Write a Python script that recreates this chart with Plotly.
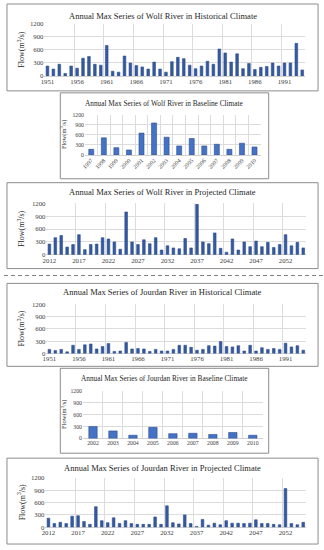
import plotly.graph_objects as go

W, H = 324, 550

# ---------------- data ----------------
hist_years = [str(y) for y in range(1951, 1995)]
base_years_wolf = [str(y) for y in range(1997, 2011)]
base_years_jourdan = [str(y) for y in range(2002, 2011)]
proj_years = [str(y) for y in range(2012, 2056)]

wolf_hist = [230, 160, 270, 60, 230, 180, 410, 450, 270, 250, 700, 110, 90, 460, 300,
             240, 210, 160, 320, 160, 90, 330, 430, 400, 250, 170, 230, 340, 270, 620,
             530, 320, 510, 170, 290, 150, 200, 220, 300, 230, 300, 300, 750, 140]
wolf_base = [170, 510, 220, 150, 650, 950, 530, 270, 490, 270, 320, 170, 350, 240]
wolf_proj = [250, 400, 450, 180, 240, 470, 120, 240, 250, 400, 370, 300, 130, 1000, 300,
             240, 350, 260, 400, 110, 210, 160, 140, 380, 160, 1180, 300, 260, 510, 150,
             60, 370, 110, 300, 190, 320, 190, 290, 170, 240, 470, 210, 290, 160]

jourdan_hist = [100, 70, 100, 40, 200, 100, 210, 230, 110, 170, 240, 50, 60, 270, 110,
                120, 110, 50, 100, 60, 60, 100, 200, 200, 150, 80, 100, 190, 180, 290,
                170, 160, 190, 60, 200, 60, 140, 100, 120, 100, 250, 160, 190, 80]
jourdan_base = [300, 190, 80, 280, 120, 130, 100, 150, 80]
jourdan_proj = [220, 90, 120, 90, 270, 280, 140, 70, 500, 160, 110, 230, 90, 160, 90,
                70, 70, 70, 250, 70, 520, 110, 80, 300, 90, 20, 190, 50, 100, 60,
                160, 100, 100, 90, 100, 180, 90, 90, 70, 60, 940, 90, 60, 120]

y_ticks = [0, 300, 600, 900, 1200]

titles = [
    "Annual Max Series of Wolf River in Historical Climate",
    "Annual Max Series of Wolf River in Baseline Climate",
    "Annual Max Series of Wolf River in Projected Climate",
    "Annual Max Series of Jourdan River in Historical Climate",
    "Annual Max Series of Jourdan River in Baseline Climate",
    "Annual Max Series of Jourdan River in Projected Climate",
]
y_title = "Flow(m<sup>3</sup>/s)"

# ---------------- layout geometry (pixels) ----------------
panels = [
    dict(x=hist_years, y=wolf_hist, area=(41, 305, 20, 73), dtick=5, angle=0, width=0.45,
         box=(3, 318, 0, 88), title_y=12, ytitle_x=17, tfs=8.5, col="#34599E"),
    dict(x=base_years_wolf, y=wolf_base, area=(82, 260, 112, 153), dtick=1, angle=-45, width=0.4,
         box=(57, 268, 90, 177), title_y=101, ytitle_x=61, tfs=7.3, col="#4472C4"),
    dict(x=proj_years, y=wolf_proj, area=(43, 306, 202, 254), dtick=5, angle=0, width=0.45,
         box=(3, 318, 181, 268), title_y=190, ytitle_x=17, tfs=8.5, col="#34599E"),
    dict(x=hist_years, y=jourdan_hist, area=(43, 306, 304, 354), dtick=5, angle=0, width=0.45,
         box=(3, 318, 283, 367), title_y=292, ytitle_x=17, tfs=8.5, col="#34599E"),
    dict(x=base_years_jourdan, y=jourdan_base, area=(80, 262, 392, 440), dtick=1, angle=0, width=0.42,
         box=(57, 268, 369, 455), title_y=379, ytitle_x=61, tfs=7.3, col="#4472C4"),
    dict(x=proj_years, y=jourdan_proj, area=(42, 306, 480, 530), dtick=5, angle=0, width=0.45,
         box=(3, 318, 460, 547), title_y=470, ytitle_x=17, tfs=8.5, col="#34599E"),
]

FONT = "Liberation Serif, Times New Roman, serif"
fig = go.Figure()
shapes = []
annotations = []
layout = {}

for i, p in enumerate(panels, start=1):
    x0, x1, yt, yb = p["area"]
    xa = "x" if i == 1 else f"x{i}"
    ya = "y" if i == 1 else f"y{i}"
    fig.add_trace(go.Bar(
        x=p["x"], y=p["y"], xaxis=xa, yaxis=ya, width=p["width"],
        marker=dict(color=p["col"], line=dict(color="#2F4F8F", width=0.6)),
        showlegend=False, hoverinfo="x+y"))
    small = p["dtick"] == 1
    tfs = 5.8 if small else 6.8
    layout[f"xaxis{'' if i == 1 else i}"] = dict(
        domain=[x0 / W, x1 / W], anchor=ya, type="category", dtick=p["dtick"],
        tickson="boundaries", showgrid=True, gridcolor="#DCDCDC", gridwidth=0.7,
        ticks="", tickangle=p["angle"], showline=False,
        tickfont=dict(family=FONT, size=tfs, color="#404040"),
        fixedrange=True)
    layout[f"yaxis{'' if i == 1 else i}"] = dict(
        domain=[1 - yb / H, 1 - yt / H], anchor=xa, range=[0, 1200], tickvals=y_ticks,
        showgrid=True, gridcolor="#DCDCDC", gridwidth=0.7, zeroline=True,
        zerolinecolor="#D0D0D0", zerolinewidth=0.8, ticks="",
        tickfont=dict(family=FONT, size=tfs, color="#404040"),
        fixedrange=True)
    bx0, bx1, by0, by1 = p["box"]
    shapes.append(dict(type="rect", xref="paper", yref="paper",
                       x0=bx0 / W, x1=bx1 / W, y0=1 - by1 / H, y1=1 - by0 / H,
                       line=dict(color="#8C8C8C", width=1), fillcolor="rgba(0,0,0,0)",
                       layer="below"))
    annotations.append(dict(text=titles[i - 1], xref="paper", yref="paper",
                            x=((bx0 + bx1) / 2) / W, y=1 - p["title_y"] / H,
                            showarrow=False, xanchor="center", yanchor="middle",
                            font=dict(family=FONT, size=p["tfs"], color="#262626")))
    annotations.append(dict(text=y_title, xref="paper", yref="paper",
                            x=p["ytitle_x"] / W, y=1 - ((yt + yb) / 2) / H, textangle=-90,
                            showarrow=False, xanchor="center", yanchor="middle",
                            font=dict(family=FONT, size=6.5 if small else 8, color="#262626")))

# dashed separator between rivers
shapes.append(dict(type="line", xref="paper", yref="paper", x0=0, x1=1,
                   y0=1 - 275 / H, y1=1 - 275 / H,
                   line=dict(color="#7F7F7F", width=1, dash="4px,3px")))

fig.update_layout(
    width=W, height=H, margin=dict(l=0, r=0, t=0, b=0),
    paper_bgcolor="white", plot_bgcolor="white",
    shapes=shapes, annotations=annotations, **layout)

fig.write_html("out.html", config={"displayModeBar": False},
               post_script="document.body.style.margin='0';")
